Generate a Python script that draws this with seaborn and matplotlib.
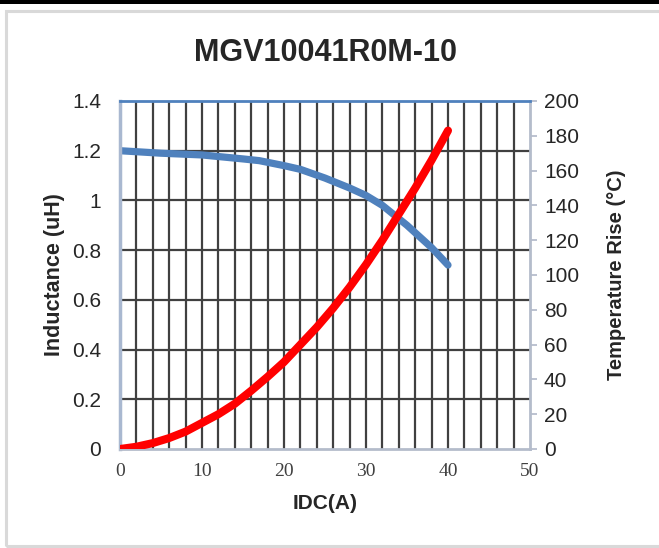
import numpy as np
import pandas as pd
import matplotlib
matplotlib.use('Agg')
import matplotlib.pyplot as plt
import seaborn as sns

idc_l = [0, 5, 10, 15, 17, 20, 22, 25, 28, 30, 32, 35, 38, 40]
inductance = [1.20, 1.19, 1.183, 1.167, 1.16, 1.14, 1.125, 1.09, 1.05, 1.02, 0.98, 0.90, 0.81, 0.74]

idc_t = [0, 2, 4, 6, 8, 10, 12, 14, 16, 18, 20, 22, 24, 26, 28, 30, 32, 34, 36, 38, 40]
temp_rise = [0, 1.3, 3.4, 6.3, 10, 15, 20, 26, 33.5, 41.5, 50, 60, 70, 81, 93, 106, 120, 135, 150, 166, 183]

left_ticks = [0, 0.2, 0.4, 0.6, 0.8, 1, 1.2, 1.4]
left_labels = ['0', '0.2', '0.4', '0.6', '0.8', '1', '1.2', '1.4']
right_ticks = [0, 20, 40, 60, 80, 100, 120, 140, 160, 180, 200]
x_ticks = [0, 10, 20, 30, 40, 50]

sns.set_style('white')
plt.rcParams['font.family'] = ['Liberation Sans', 'DejaVu Sans']

fig = plt.figure(figsize=(6.59, 5.48), dpi=100)

# outer frame like the Excel export
fig.add_artist(plt.Rectangle((0, 1 - 4 / 548), 1, 4 / 548, transform=fig.transFigure,
                             color='black', lw=0))
fig.add_artist(plt.Rectangle((6 / 659, 2 / 548), 1.0, 1 - 13 / 548, transform=fig.transFigure,
                             fill=False, edgecolor='#d9d9d9', lw=2.2))

ax = fig.add_axes([120 / 659, 1 - 449 / 548, 410 / 659, 348 / 548])
ax2 = ax.twinx()

df_l = pd.DataFrame({'IDC': idc_l, 'L': inductance})
df_t = pd.DataFrame({'IDC': idc_t, 'T': temp_rise})

# gridlines
for xv in np.arange(2, 50, 2):
    ax.axvline(xv, color='#404040', lw=1.6, zorder=0)
for yv in left_ticks[1:-1]:
    ax.axhline(yv, color='#404040', lw=1.6, zorder=0)

sns.lineplot(data=df_l, x='IDC', y='L', ax=ax, color='#4f81bd', lw=5.2,
             solid_capstyle='round', solid_joinstyle='round', zorder=3)
sns.lineplot(data=df_t, x='IDC', y='T', ax=ax2, color='#ff0000', lw=5.8,
             solid_capstyle='round', solid_joinstyle='round', zorder=3)

ax.set_xlim(0, 50)
ax.set_ylim(0, 1.4)
ax2.set_ylim(0, 200)
ax.set_xticks(x_ticks)
ax.set_xticklabels([str(v) for v in x_ticks], family='Liberation Serif', fontsize=14,
                   color='#404040')
ax.set_yticks(left_ticks)
ax.set_yticklabels(left_labels, fontsize=15)
ax2.set_yticks(right_ticks)
ax2.set_yticklabels([str(v) for v in right_ticks], fontsize=15)

ax.tick_params(axis='x', length=0, pad=10)
ax.tick_params(axis='y', length=0, pad=13.5)
ax2.tick_params(axis='y', length=5, width=1.2, color='#b0b8c8', pad=5, direction='out')

for a in (ax, ax2):
    for s in a.spines.values():
        s.set_visible(False)
ax2.spines['top'].set_visible(True)
ax2.spines['top'].set_color('#4f81bd')
ax2.spines['top'].set_linewidth(2)
ax2.spines['left'].set_visible(True)
ax2.spines['left'].set_color('#a9b8d0')
ax2.spines['left'].set_linewidth(2.5)
ax2.spines['bottom'].set_visible(True)
ax2.spines['bottom'].set_color('#b4bccb')
ax2.spines['bottom'].set_linewidth(2)
ax2.spines['right'].set_visible(True)
ax2.spines['right'].set_color('#b4bccb')
ax2.spines['right'].set_linewidth(2)

ax.set_xlabel('IDC(A)', fontsize=15, fontweight='bold', labelpad=10)
ax.set_ylabel('Inductance (uH)', fontsize=15.5, fontweight='bold', labelpad=5)
ax2.set_ylabel('Temperature Rise (\u00b0C)', fontsize=14.5, fontweight='bold', labelpad=20)
ax.set_title('MGV10041R0M-10', fontsize=22, fontweight='bold', pad=29)

fig.savefig('out.png', dpi=100)
